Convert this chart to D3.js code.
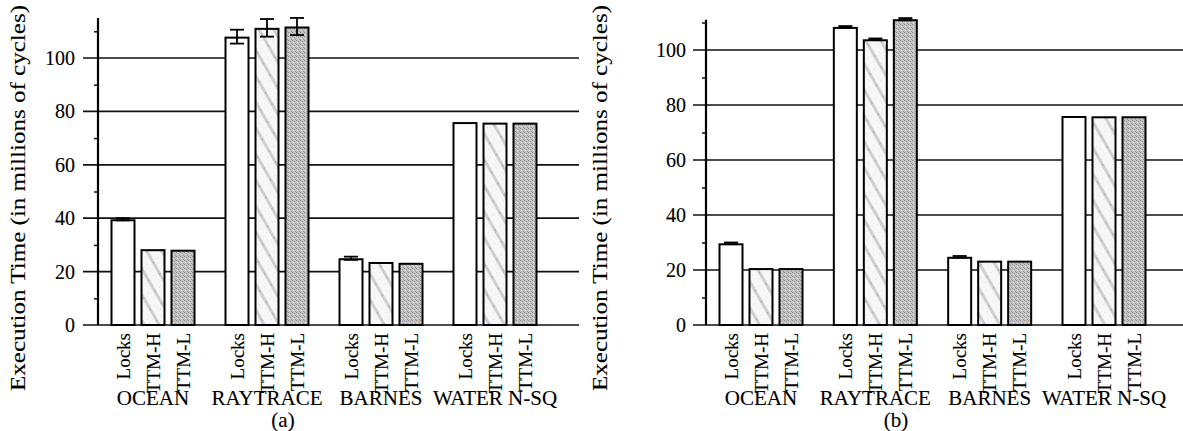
<!DOCTYPE html>
<html>
<head>
<meta charset="utf-8">
<script src="https://cdn.jsdelivr.net/npm/d3@7"></script>
<style>
  body { margin: 0; background: #fff; }
  svg { display: block; }
  text { font-family: "Liberation Serif", "Times New Roman", serif; fill: #000; stroke: #000; stroke-width: 0.12px; }
</style>
</head>
<body>
<svg id="chart" width="1183" height="431"></svg>
<script>
const categories = ["OCEAN", "RAYTRACE", "BARNES", "WATER N-SQ"];
const series = ["Locks", "TTM-H", "TTM-L"];
const yTicks = [0, 20, 40, 60, 80, 100];

// panel (a)
const valuesA = [
  [39.6, 28.4, 28.2],
  [108.0, 111.3, 111.8],
  [25.0, 23.6, 23.3],
  [76.0, 75.8, 75.8]
];
const errorsA = [
  [0.4, 0, 0],
  [2.6, 3.3, 3.2],
  [0.6, 0, 0],
  [0, 0, 0]
];
// panel (b)
const valuesB = [
  [29.7, 20.7, 20.7],
  [108.4, 103.9, 111.2],
  [24.8, 23.4, 23.4],
  [76.0, 75.9, 75.9]
];
const errorsB = [
  [0.3, 0, 0],
  [0.3, 0.3, 0.4],
  [0.3, 0, 0],
  [0, 0, 0]
];

const svg = d3.select("#chart");
const defs = svg.append("defs");

// light stipple with diagonal stripes for TTM-H
const pH = defs.append("pattern")
  .attr("id", "patH")
  .attr("patternUnits", "userSpaceOnUse")
  .attr("width", 13).attr("height", 13)
  .attr("patternTransform", "rotate(-30)");
pH.append("rect").attr("width", 13).attr("height", 13).attr("fill", "#f7f7f7");
pH.append("rect").attr("x", 0).attr("width", 3).attr("height", 13).attr("fill", "#cfcfcf");
pH.append("rect").attr("x", 1).attr("y", 4).attr("width", 1).attr("height", 2).attr("fill", "#aaa");
pH.append("rect").attr("x", 7).attr("y", 3).attr("width", 1).attr("height", 1).attr("fill", "#dadada");
pH.append("rect").attr("x", 10).attr("y", 9).attr("width", 1).attr("height", 1).attr("fill", "#e0e0e0");

// darker stipple for TTM-L
const pL = defs.append("pattern")
  .attr("id", "patL")
  .attr("patternUnits", "userSpaceOnUse")
  .attr("width", 4).attr("height", 4);
pL.append("rect").attr("width", 4).attr("height", 4).attr("fill", "#c2c2c2");
pL.append("rect").attr("x", 0).attr("y", 0).attr("width", 1).attr("height", 1).attr("fill", "#8c8c8c");
pL.append("rect").attr("x", 2).attr("y", 1).attr("width", 1).attr("height", 1).attr("fill", "#9c9c9c");
pL.append("rect").attr("x", 1).attr("y", 2).attr("width", 1).attr("height", 1).attr("fill", "#e4e4e4");
pL.append("rect").attr("x", 3).attr("y", 3).attr("width", 1).attr("height", 1).attr("fill", "#979797");

const fills = { "Locks": "#fff", "TTM-H": "url(#patH)", "TTM-L": "url(#patL)" };

function drawPanel(opts) {
  const g = svg.append("g");
  const y = d3.scaleLinear().domain([0, 100]).range([325, opts.y100]);
  const x = d3.scalePoint().domain(categories).range(opts.centers);
  const xs = d3.scaleBand().domain(series).range([-42.5, 42.5]).paddingInner(1/6).paddingOuter(0);

  // grid lines (and major ticks, which run left past the axis)
  g.selectAll(".grid").data(yTicks).join("line")
    .attr("x1", opts.gridLeft).attr("x2", opts.gridRight)
    .attr("y1", d => y(d)).attr("y2", d => y(d))
    .attr("stroke", "#111").attr("stroke-width", 1.7);

  // y axis via d3 axis, minor ticks only
  const minor = d3.range(10, opts.yTop, 20);
  const ax = g.append("g").attr("transform", `translate(${opts.axisX},0)`)
    .call(d3.axisLeft(y).tickValues(minor).tickSize(4).tickFormat(""));
  ax.select(".domain").remove();
  ax.selectAll(".tick line").attr("stroke", "#111").attr("stroke-width", 1.5);
  g.append("line")
    .attr("x1", opts.axisX).attr("x2", opts.axisX)
    .attr("y1", y(0)).attr("y2", y(opts.yTop))
    .attr("stroke", "#000").attr("stroke-width", 2.2);

  g.selectAll(".ylab").data(yTicks).join("text")
    .attr("x", opts.labelRight).attr("y", d => y(d))
    .attr("dy", "0.35em").attr("text-anchor", "end")
    .style("font-size", "20px")
    .text(d => d);

  // bars
  categories.forEach((c, i) => {
    series.forEach((s, j) => {
      const v = opts.values[i][j];
      const e = opts.errors[i][j];
      const bx = x(c) + xs(s);
      const bw = xs.bandwidth();
      g.append("rect")
        .attr("x", bx + 1).attr("y", y(v) + 1)
        .attr("width", bw - 2).attr("height", y(0) - y(v) - 1)
        .attr("fill", fills[s])
        .attr("stroke", "#000").attr("stroke-width", 2);
      const cx = bx + bw / 2;
      if (e > 0) {
        g.append("line")
          .attr("x1", cx).attr("x2", cx)
          .attr("y1", y(v + e)).attr("y2", y(v - e))
          .attr("stroke", "#000").attr("stroke-width", 1.8);
        [v + e, v - e].forEach(t => {
          g.append("line")
            .attr("x1", cx - 7).attr("x2", cx + 7)
            .attr("y1", y(t)).attr("y2", y(t))
            .attr("stroke", "#000").attr("stroke-width", 1.8);
        });
      }
      g.append("text")
        .attr("transform", `translate(${cx},333) rotate(-90)`)
        .attr("dy", "0.35em").attr("text-anchor", "end")
        .style("font-size", "19px")
        .text(s);
    });
    g.append("text")
      .attr("x", x(c)).attr("y", 405)
      .attr("text-anchor", "middle")
      .style("font-size", "21px")
      .text(c);
  });

  g.append("text")
    .attr("transform", `translate(${opts.titleX},198) rotate(-90)`)
    .attr("dy", "0.35em").attr("text-anchor", "middle")
    .attr("textLength", 386).attr("lengthAdjust", "spacingAndGlyphs")
    .style("font-size", "20px")
    .text("Execution Time (in millions of cycles)");

  g.append("text")
    .attr("x", opts.subX).attr("y", 427)
    .attr("text-anchor", "middle")
    .style("font-size", "21px")
    .text(opts.sub);
}

drawPanel({
  values: valuesA, errors: errorsA,
  y100: 58, yTop: 115,
  centers: [153, 495],
  axisX: 98, gridLeft: 83, gridRight: 579, labelRight: 75,
  titleX: 18, subX: 283, sub: "(a)"
});
drawPanel({
  values: valuesB, errors: errorsB,
  y100: 50, yTop: 111,
  centers: [761, 1104],
  axisX: 706, gridLeft: 693, gridRight: 1183, labelRight: 686,
  titleX: 600, subX: 896, sub: "(b)"
});
</script>
</body>
</html>
